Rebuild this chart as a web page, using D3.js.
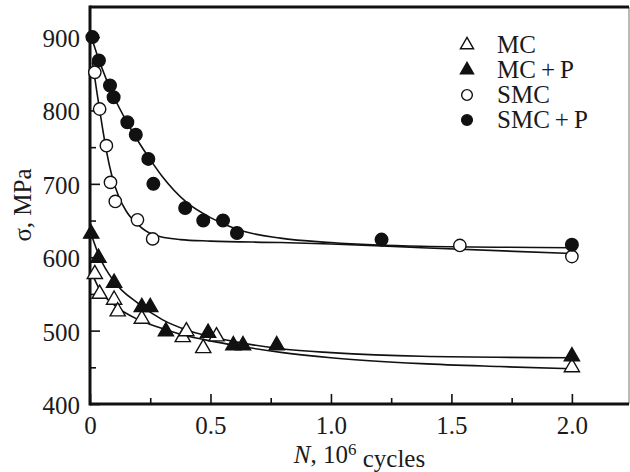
<!DOCTYPE html>
<html>
<head>
<meta charset="utf-8">
<script src="https://cdn.jsdelivr.net/npm/d3@7"></script>
<style>
  body { margin: 0; background: #fff; }
  svg { display: block; font-family: "Liberation Serif", "Times New Roman", serif; }
</style>
</head>
<body>
<div id="chart"></div>
<script>
// measured points [N (10^6 cycles), sigma (MPa)]
var mcPoints = [[0.02, 577], [0.04, 550], [0.10, 542], [0.115, 526], [0.215, 516],
                [0.385, 491], [0.40, 499], [0.47, 476], [0.525, 492], [2.0, 450]];
var mcpPoints = [[0.005, 632], [0.035, 599], [0.10, 565], [0.215, 532], [0.25, 532],
                 [0.315, 499], [0.49, 497], [0.595, 480], [0.635, 480], [0.775, 480], [2.0, 465]];
var smcPoints = [[0.02, 852], [0.04, 802], [0.068, 752], [0.085, 702], [0.105, 676],
                 [0.197, 651], [0.26, 625], [1.535, 616], [2.0, 601]];
var smcpPoints = [[0.01, 900], [0.037, 868], [0.083, 834], [0.098, 818], [0.155, 784],
                  [0.19, 767], [0.242, 734], [0.263, 700], [0.395, 667], [0.47, 650],
                  [0.552, 650], [0.61, 633], [1.21, 624], [2.0, 617]];

// fitted curves
var mcFit = [[0.012, 575], [0.04, 556], [0.10, 535], [0.20, 515], [0.30, 503], [0.40, 493],
             [0.50, 486], [0.60, 480], [0.80, 470], [1.0, 463], [1.375, 455], [1.7, 451], [2.0, 448]];
var mcpFit = [[0.0, 636], [0.04, 600], [0.10, 567], [0.20, 537], [0.30, 515], [0.40, 501],
              [0.50, 492], [0.60, 485], [0.80, 475], [1.0, 470], [1.375, 465], [2.0, 463]];
var smcFit = [[0.01, 866], [0.03, 822], [0.05, 780], [0.07, 742], [0.09, 712], [0.12, 682],
              [0.15, 663], [0.20, 644], [0.26, 631], [0.375, 624], [0.50, 622], [0.79, 620],
              [1.0, 618], [1.21, 615.5], [1.375, 613], [2.0, 605]];
var smcpFit = [[0.0, 906], [0.04, 866], [0.10, 818], [0.15, 786], [0.20, 758], [0.25, 733],
               [0.30, 710], [0.40, 675], [0.50, 654], [0.61, 638], [0.79, 626], [1.0, 620],
               [1.375, 615], [2.0, 613]];

var legendNames = ["MC", "MC\u2009+\u2009P", "SMC", "SMC\u2009+\u2009P"];
var xMajor = [0, 0.5, 1.0, 1.5, 2.0];
var xMinor = [0.25, 0.75, 1.25, 1.75];
var yMajor = [400, 500, 600, 700, 800, 900];
var yMinor = [450, 550, 650, 750, 850];

var W = 630, H = 472;
var margin = {top: 7, right: 1, bottom: 68, left: 90},
    width = W - margin.left - margin.right,
    height = H - margin.top - margin.bottom;

var x = d3.scaleLinear().domain([0, 2.237]).range([0, width]);
var y = d3.scaleLinear().domain([400, 941]).range([height, 0]);

var svg = d3.select("#chart").append("svg")
    .attr("width", W)
    .attr("height", H);

svg.append("rect").attr("width", W).attr("height", H).attr("fill", "#fff");

var g = svg.append("g")
    .attr("transform", "translate(" + margin.left + "," + margin.top + ")");

// axes with inward ticks
function styleAxis(sel) {
    sel.select(".domain").remove();
    sel.selectAll("line").attr("stroke", "#111").attr("stroke-width", 1.6);
    sel.selectAll("text").attr("fill", "#1a1a1a").style("font-size", "25px")
        .style("font-family", "'Liberation Serif', serif");
}

g.append("g")
    .attr("transform", "translate(0," + height + ")")
    .call(d3.axisBottom(x).tickValues(xMajor).tickSizeInner(-10).tickSizeOuter(0).tickPadding(12)
        .tickFormat(function (d) { return d === 0 ? "0" : d3.format(".1f")(d); }))
    .call(styleAxis);

g.append("g")
    .attr("transform", "translate(0," + height + ")")
    .call(d3.axisBottom(x).tickValues(xMinor).tickSizeInner(-6).tickSizeOuter(0).tickFormat(""))
    .call(styleAxis);

g.append("g")
    .call(d3.axisLeft(y).tickValues(yMajor).tickSizeInner(-10).tickSizeOuter(0).tickPadding(10))
    .call(styleAxis)
    .selectAll("text").attr("dy", "0.38em");

g.append("g")
    .call(d3.axisLeft(y).tickValues(yMinor).tickSizeInner(-6).tickSizeOuter(0).tickFormat(""))
    .call(styleAxis);

// frame
g.append("line").attr("x1", width).attr("x2", width).attr("y1", 0).attr("y2", height)
    .attr("stroke", "#777").attr("stroke-width", 1);
g.append("line").attr("x1", 0).attr("x2", width).attr("y1", 0).attr("y2", 0)
    .attr("stroke", "#111").attr("stroke-width", 3);
g.append("line").attr("x1", 0).attr("x2", 0).attr("y1", -1.5).attr("y2", height + 1.5)
    .attr("stroke", "#111").attr("stroke-width", 3);
g.append("line").attr("x1", 0).attr("x2", width).attr("y1", height).attr("y2", height)
    .attr("stroke", "#111").attr("stroke-width", 3);

// fitted curves
var line = d3.line()
    .x(function (d) { return x(d[0]); })
    .y(function (d) { return y(d[1]); })
    .curve(d3.curveMonotoneX);

[mcFit, mcpFit, smcFit, smcpFit].forEach(function (fit) {
    g.append("path")
        .datum(fit)
        .attr("fill", "none")
        .attr("stroke", "#111")
        .attr("stroke-width", 1.6)
        .attr("d", line);
});

// markers
var series = [
    {pts: mcPoints, type: d3.symbolTriangle, size: 100, filled: false},
    {pts: mcpPoints, type: d3.symbolTriangle, size: 100, filled: true},
    {pts: smcPoints, type: d3.symbolCircle, size: 120, filled: false},
    {pts: smcpPoints, type: d3.symbolCircle, size: 125, filled: true}
];

series.forEach(function (s) {
    g.selectAll(null)
        .data(s.pts)
        .enter().append("path")
        .attr("transform", function (d) { return "translate(" + x(d[0]) + "," + y(d[1]) + ")"; })
        .attr("d", d3.symbol().type(s.type).size(s.size))
        .attr("fill", s.filled ? "#111" : "#fff")
        .attr("stroke", "#111")
        .attr("stroke-width", 1.4);
});

// legend
var legend = svg.append("g").attr("transform", "translate(467,45)");
series.forEach(function (s, i) {
    var row = legend.append("g").attr("transform", "translate(0," + (i * 25) + ")");
    row.append("path")
        .attr("d", d3.symbol().type(s.type).size(s.type === d3.symbolCircle ? 90 : 75))
        .attr("fill", s.filled ? "#111" : "#fff")
        .attr("stroke", "#111")
        .attr("stroke-width", 1.4);
    row.append("text")
        .attr("x", 30)
        .attr("dy", "0.33em")
        .style("font-size", "25px")
        .attr("fill", "#1a1a1a")
        .text(legendNames[i]);
});

// axis titles
var xt = svg.append("text")
    .attr("x", margin.left + width / 2)
    .attr("y", 463)
    .attr("text-anchor", "middle")
    .style("font-size", "25px")
    .attr("fill", "#1a1a1a");
xt.append("tspan").style("font-style", "italic").text("N");
xt.append("tspan").text(", 10");
xt.append("tspan").attr("dy", "-0.45em").style("font-size", "17px").text("6");
xt.append("tspan").attr("dy", "0.45em").text(" cycles");

svg.append("text")
    .attr("transform", "translate(31,205) rotate(-90)")
    .attr("text-anchor", "middle")
    .style("font-size", "25px")
    .attr("fill", "#1a1a1a")
    .text("\u03c3, MPa");
</script>
</body>
</html>
